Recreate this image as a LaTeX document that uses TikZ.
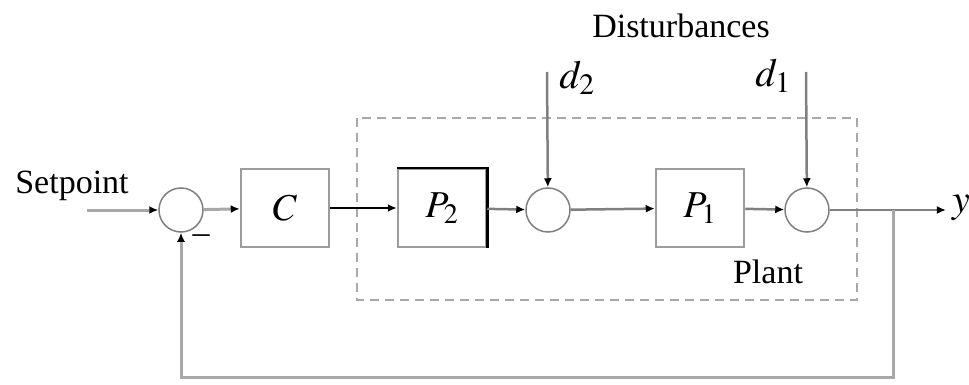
\documentclass[tikz,border=0pt]{standalone}
\usepackage{mathptmx}
\usepackage{fontspec}
\setmainfont{Liberation Serif}
\definecolor{cLine}{HTML}{A8A8A8}
\definecolor{cDark}{HTML}{808080}
\definecolor{cEdge}{HTML}{9C9C9C}
\usetikzlibrary{positioning,arrows.meta}
\tikzset{
  node-block/.style={draw=cEdge,line width=2.5pt,fill=white,minimum width=88pt,
    minimum height=78pt,font=\fontsize{38}{40}\selectfont},
  node-sum/.style={draw=cDark,line width=1.5pt,circle,fill=white,minimum size=44pt,
    inner sep=0pt},
  node-text/.style={font=\fontsize{34}{36}\selectfont,inner sep=0pt},
  node-math/.style={font=\fontsize{40}{42}\selectfont,inner sep=0pt},
  arrow/.style={-{Latex[length=9pt,width=8pt,black]},line width=3pt,draw=cLine},
  arrow-dark/.style={-{Latex[length=9pt,width=8pt,black]},line width=2.5pt,draw=cDark},
  plant-box/.style={draw=cLine,line width=2.5pt,dash pattern=on 9pt off 6pt},
}
\begin{document}
\begin{tikzpicture}[x=1pt,y=-1pt]
  \useasboundingbox (0,0) rectangle (969,385);
  % plant boundary
  \draw[plant-box] (357,118) rectangle (857,300);
  \node[node-text] (setpoint) at (72,186) {Setpoint};
  \node[node-text] (dist) at (681,26) {Disturbances};
  \node[node-text] (plant) at (768,272) {Plant};
  \node[node-sum] (sum1) at (181,210) {};
  \node[node-block] (ctrl) at (285,208) {$C$};
  \node[node-block] (p2) at (442,208) {$P_2$};
  \node[node-sum] (sum2) at (548,210) {};
  \node[node-block] (p1) at (700,208) {$P_1$};
  \node[node-sum] (sum3) at (807,210) {};
  \node[node-math] (yout) at (961,208) {$y$};
  \node[node-math] (d2) at (577,78) {$d_2$};
  \node[node-math] (d1) at (773,76) {$d_1$};
  \node[node-text] (minus) at (201,239) {--};
  \draw[black,line width=2.5pt] (p2.north west) -- (p2.north east) -- (p2.south east);
  \coordinate (spin) at (87,210);
  \coordinate (d2in) at (547,72);
  \coordinate (d1in) at (806,72);
  \coordinate (tap) at (893,210);
  \draw[arrow] (spin) -- (sum1);
  \draw[arrow] (sum1) -- (ctrl);
  \draw[arrow,draw=black,line width=2pt] (ctrl) -- (p2);
  \draw[arrow-dark] (p2) -- (sum2);
  \draw[arrow-dark] (sum2) -- (p1);
  \draw[arrow-dark] (p1) -- (sum3);
  \draw[arrow-dark] (d2in) -- (sum2);
  \draw[arrow-dark] (d1in) -- (sum3);
  \draw[arrow-dark,shorten >=6pt] (sum3) -- (yout.west |- sum3);
  \draw[arrow] (tap) -- ++(0,167) -| (sum1);
\end{tikzpicture}
\end{document}
